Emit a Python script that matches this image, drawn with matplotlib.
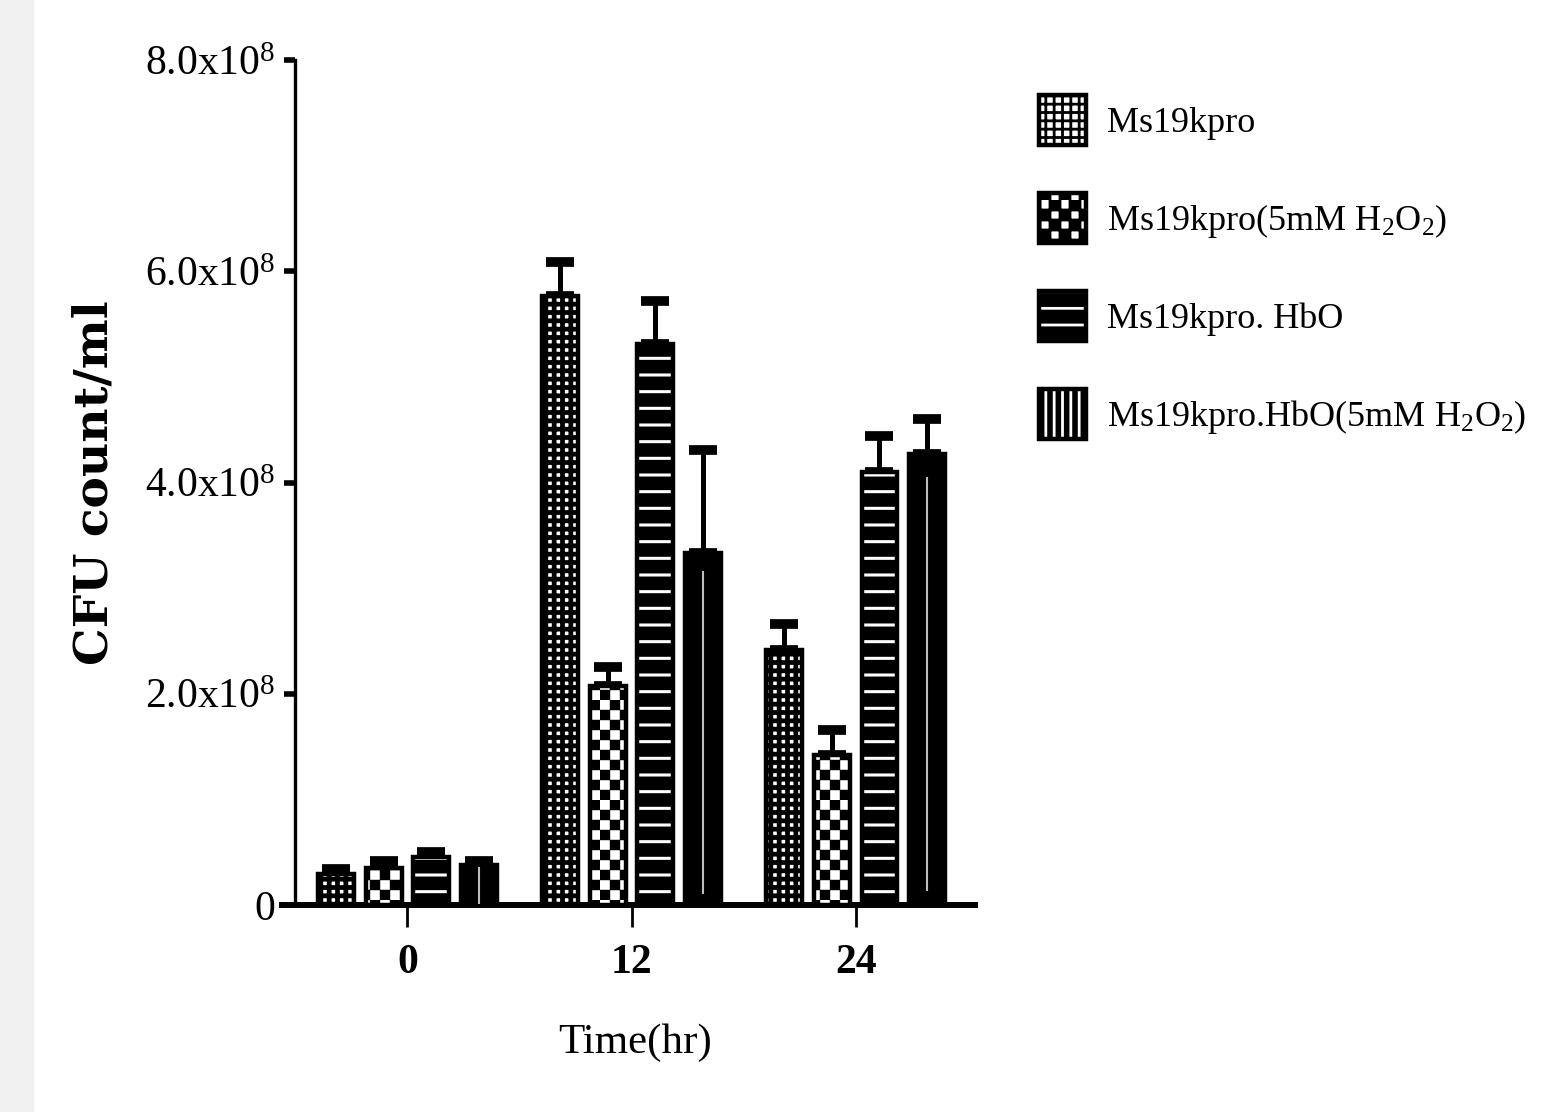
import matplotlib
matplotlib.use('Agg')
import matplotlib.pyplot as plt
import matplotlib.hatch as mhatch
from matplotlib.path import Path
from matplotlib.patches import Patch, Rectangle
import numpy as np

# data
times = ['0', '12', '24']
series = ['Ms19kpro', 'Ms19kpro(5mM H$_2$O$_2$)', 'Ms19kpro. HbO',
          'Ms19kpro.HbO(5mM H$_2$O$_2$)']
means = [
    [0.29e8, 5.77e8, 2.41e8],
    [0.35e8, 2.07e8, 1.42e8],
    [0.45e8, 5.31e8, 4.10e8],
    [0.38e8, 3.33e8, 4.27e8],
]
err_tops = [
    [0.34e8, 6.09e8, 2.66e8],
    [0.42e8, 2.25e8, 1.66e8],
    [0.50e8, 5.72e8, 4.44e8],
    [0.42e8, 4.31e8, 4.60e8],
]
yticks = [0, 2e8, 4e8, 6e8, 8e8]
ytick_labels = ['0'] + ['%.1fx10$^8$' % (v / 1e8) for v in yticks[1:]]


# checkerboard hatch, uses the 'O' character
class CheckerHatch(mhatch.HatchPatternBase):
    def __init__(self, hatch, density):
        n = hatch.count('O') * 5
        self.n = n
        self.cells = [(i, j) for i in range(n) for j in range(n) if (i + j) % 2 == 0]
        self.num_vertices = len(self.cells) * 5

    def set_vertices_and_codes(self, vertices, codes):
        s = 1.0 / self.n
        for k, (i, j) in enumerate(self.cells):
            x0, y0 = i * s, j * s
            vertices[5 * k:5 * k + 5] = [(x0, y0), (x0 + s, y0), (x0 + s, y0 + s),
                                         (x0, y0 + s), (x0, y0)]
            codes[5 * k:5 * k + 5] = [Path.MOVETO, Path.LINETO, Path.LINETO,
                                      Path.LINETO, Path.CLOSEPOLY]


mhatch._hatch_types = [t for t in mhatch._hatch_types if t is not mhatch.LargeCircles]
mhatch._hatch_types.append(CheckerHatch)

plt.rcParams['font.family'] = ['Liberation Serif', 'DejaVu Serif']
plt.rcParams['mathtext.fontset'] = 'custom'
plt.rcParams['mathtext.rm'] = 'Liberation Serif'
plt.rcParams['mathtext.it'] = 'Liberation Serif:italic'
plt.rcParams['mathtext.bf'] = 'Liberation Serif:bold'

# (face, hatch, hatch colour, hatch linewidth)
styles = [
    ('white', '++', 'black', 3.4),
    ('white', 'OO', 'black', 0.3),
    ('black', '-', 'white', 2.2),
    ('black', '', 'black', 1.0),
]

fig = plt.figure(figsize=(15.42, 11.12), dpi=100)
fig.patches.append(Rectangle((0, 0), 33 / 1542, 1, transform=fig.transFigure,
                             color='#f0f0f0', zorder=0))
ax = fig.add_axes([295 / 1542, 1 - 905 / 1112, (975 - 295) / 1542, (905 - 60) / 1112])

x = np.arange(len(times))
width = 0.16
step = 0.213
legend_handles = []


def set_hlw(bars, lw):
    for b in bars:
        if hasattr(b, 'set_hatch_linewidth'):
            b.set_hatch_linewidth(lw)


for i, (vals, tops) in enumerate(zip(means, err_tops)):
    face, hatch, hcol, hlw = styles[i]
    xs = x + (i - 1.5) * step
    plt.rcParams['hatch.linewidth'] = hlw
    fill = ax.bar(xs, vals, width, color=face, edgecolor=hcol, hatch=hatch,
                  linewidth=0, zorder=3)
    set_hlw(fill, hlw)
    ax.bar(xs, vals, width, fill=False, edgecolor='black', linewidth=3.2, zorder=4)
    up = np.array(tops) - np.array(vals)
    ax.errorbar(xs, vals, yerr=[np.zeros_like(up), up], fmt='none', ecolor='black',
                elinewidth=3.6, capsize=10, capthick=7, zorder=2)
    if i == 3:
        ax.vlines(xs, np.array(vals) * 0.03, np.array(vals) * 0.95, color='#bdbdbd',
                  linewidth=1.5, zorder=5)
        hp = Patch(facecolor='black', edgecolor='white', hatch='||', linewidth=0)
        set_hlw([hp], 1.2)
    else:
        hp = Patch(facecolor=face, edgecolor=hcol, hatch=hatch, linewidth=0)
        set_hlw([hp], hlw)
    outline = Patch(fill=False, edgecolor='black', linewidth=3.2)
    legend_handles.append((hp, outline))

plt.rcParams['hatch.linewidth'] = 2.0

ax.set_xlim(-0.502, 2.533)
ax.set_ylim(0, 8e8)
ax.set_yticks(yticks)
ax.set_yticklabels(ytick_labels, fontsize=30)
ax.set_xticks(x)
ax.set_xticklabels(times, fontsize=30, fontweight='bold')
ax.tick_params(axis='y', length=8, width=4, pad=6)
ax.tick_params(axis='x', length=16, width=2, pad=12)
ax.spines['top'].set_visible(False)
ax.spines['right'].set_visible(False)
ax.spines['left'].set_linewidth(2.4)
ax.spines['bottom'].set_linewidth(4.3)
ax.spines['bottom'].set_bounds(-0.56, 2.533)

ax.set_ylabel('CFU count/ml', fontsize=34, fontweight='bold', labelpad=20,
              family='DejaVu Serif')
ax.set_xlabel('Time(hr)', fontsize=31, labelpad=30)

ax.legend(legend_handles, series, loc='upper left', bbox_to_anchor=(1.046, 0.997),
          frameon=False, fontsize=26, handlelength=1.3, handleheight=1.75,
          labelspacing=1.33, handletextpad=0.6)

fig.savefig('out.png', dpi=100)
